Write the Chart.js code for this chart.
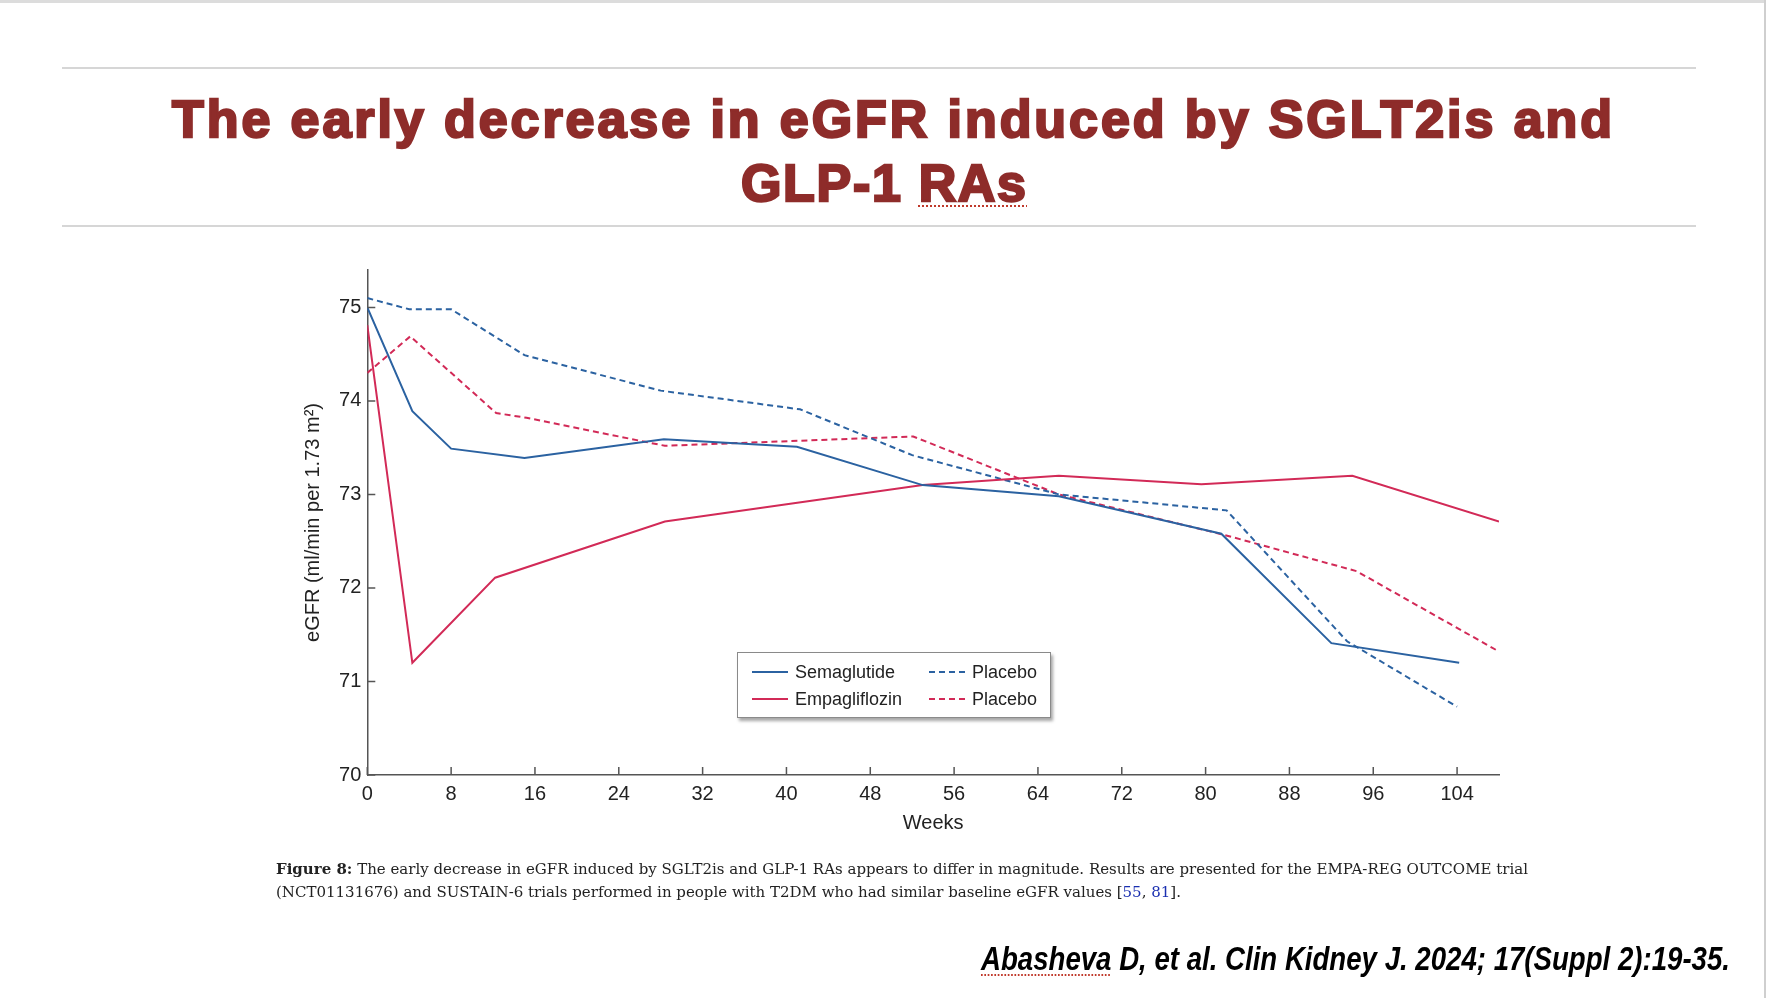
<!DOCTYPE html>
<html>
<head>
<meta charset="utf-8">
<script src="https://cdn.jsdelivr.net/npm/chart.js@4.4.1/dist/chart.umd.min.js"></script>
<style>
  html, body { margin: 0; padding: 0; background: #fff; }
  #page { position: relative; width: 1766px; height: 998px; overflow: hidden; background: #fff; }
  #topbar { position: absolute; left: 0; top: 0; width: 1766px; height: 3px; background: #dcdcdc; }
  #rightbar { position: absolute; right: 0; top: 0; width: 2px; height: 998px; background: #cfcfcf; }
  .rule { position: absolute; left: 62px; width: 1634px; height: 0; border-top: 2px solid #d6d6d6; }
  .title { position: absolute; font-family: "Liberation Sans", Arial, sans-serif; font-weight: bold;
           color: #8e2c2a; -webkit-text-stroke: 2.4px #8e2c2a; white-space: nowrap; line-height: 1; font-size: 52px; }
  .dotted { text-decoration: underline dotted #c0392b; text-decoration-thickness: 2px; text-underline-offset: 4px; }
  .title .dotted { -webkit-text-stroke: 2.4px #8e2c2a; }
  .caption { position: absolute; left: 276px; font-family: "DejaVu Serif", "Liberation Serif", serif;
             color: #222; white-space: nowrap; line-height: 1; font-size: 15px; }
  .caption b { font-weight: bold; }
  .caption .ref { color: #1a2fb0; }
  #cite { position: absolute; font-family: "Liberation Sans", Arial, sans-serif; font-weight: bold; font-style: italic;
          color: #000; white-space: nowrap; line-height: 1; font-size: 33px; transform-origin: right top; }
  #chart { position: absolute; left: 0; top: 0; }
  #legend { position: absolute; left: 737px; top: 652px; width: 312px; height: 64px; background: #fff;
            border: 1px solid #8a8a8a; box-shadow: 2px 3px 3px rgba(0,0,0,0.35); }
  .item { position: absolute; height: 22px; display: flex; align-items: center;
          font-family: "Liberation Sans", Arial, sans-serif; font-size: 18px; color: #222; white-space: nowrap; }
  .item svg { margin-right: 7px; }
</style>
</head>
<body>
<div id="page">
  <div id="topbar"></div>
  <div id="rightbar"></div>
  <div class="rule" style="top:67px"></div>
  <div class="rule" style="top:225px"></div>
  <div class="title" id="t1" style="left:172px; top:93px">The early decrease in eGFR induced by SGLT2is and</div>
  <div class="title" id="t2" style="left:741px; top:157px">GLP-1 <span class="dotted">RAs</span></div>

  <canvas id="chart" width="1766" height="998"></canvas>
  <div id="legend"></div>

  <div class="caption" id="c1" style="top:862px"><b>Figure 8:</b> The early decrease in eGFR induced by SGLT2is and GLP-1 RAs appears to differ in magnitude. Results are presented for the EMPA-REG OUTCOME trial</div>
  <div class="caption" id="c2" style="top:885px">(NCT01131676) and SUSTAIN-6 trials performed in people with T2DM who had similar baseline eGFR values [<span class="ref">55</span>, <span class="ref">81</span>].</div>

  <div id="cite" style="top:942px"><span class="dotted">Abasheva</span> D, et al. Clin Kidney J. 2024; 17(Suppl 2):19-35.</div>
</div>

<script>
// eGFR (ml/min per 1.73 m2)
const weeksSema = [0, 4.3, 8, 15, 28.3, 41, 53, 66, 81.5, 92, 104.2];
const semaglutide = [75.0, 73.89, 73.49, 73.39, 73.59, 73.51, 73.10, 72.98, 72.58, 71.41, 71.20];

const weeksSemaPbo = [0, 4, 8, 15, 28, 41.3, 52, 66, 82, 93.5, 104];
const semaPlacebo = [75.10, 74.98, 74.98, 74.49, 74.11, 73.91, 73.42, 73.0, 72.83, 71.43, 70.73];

const weeksEmpa = [0, 4.3, 12.2, 28.4, 53, 66, 79.6, 94, 108];
const empagliflozin = [74.81, 71.20, 72.11, 72.71, 73.10, 73.20, 73.11, 73.20, 72.71];

const weeksEmpaPbo = [0, 4.1, 12.3, 15.2, 28.4, 52.1, 66, 81.7, 94.4, 108];
const empaPlacebo = [74.30, 74.69, 73.87, 73.82, 73.52, 73.62, 73.0, 72.57, 72.18, 71.32];

const weekTicks = [0, 8, 16, 24, 32, 40, 48, 56, 64, 72, 80, 88, 96, 104];
const egfrTicks = [70, 71, 72, 73, 74, 75];

const blue = '#2b62a1';
const red = '#d22a57';
const axisFont = { family: '"Liberation Sans", Arial, sans-serif', size: 20 };

function points(weeks, vals) {
  return weeks.map((w, i) => ({ x: w, y: vals[i] }));
}

// ticks point inward, like the original
const innerTicks = {
  id: 'innerTicks',
  afterDraw(chart) {
    const { ctx, chartArea: a, scales: { x, y } } = chart;
    ctx.save();
    ctx.strokeStyle = '#555';
    ctx.lineWidth = 1.5;
    ctx.beginPath();
    weekTicks.forEach(v => {
      const px = x.getPixelForValue(v);
      ctx.moveTo(px, a.bottom);
      ctx.lineTo(px, a.bottom - 8);
    });
    egfrTicks.forEach(v => {
      const py = y.getPixelForValue(v);
      ctx.moveTo(a.left, py);
      ctx.lineTo(a.left + 8, py);
    });
    ctx.stroke();
    ctx.restore();
  }
};

const chart = new Chart(document.getElementById('chart'), {
  type: 'line',
  data: {
    datasets: [
      { label: 'Semaglutide', data: points(weeksSema, semaglutide), borderColor: blue, borderDash: [] },
      { label: 'Empagliflozin', data: points(weeksEmpa, empagliflozin), borderColor: red, borderDash: [] },
      { label: 'Placebo', data: points(weeksSemaPbo, semaPlacebo), borderColor: blue, borderDash: [6, 4] },
      { label: 'Placebo', data: points(weeksEmpaPbo, empaPlacebo), borderColor: red, borderDash: [6, 4] }
    ]
  },
  options: {
    responsive: false,
    animation: false,
    devicePixelRatio: 1,
    layout: { padding: { left: 297.3, right: 267, top: 270, bottom: 163 } },
    elements: {
      line: { borderWidth: 2, tension: 0, fill: false },
      point: { radius: 0, hoverRadius: 0 }
    },
    plugins: { legend: { display: false }, tooltip: { enabled: false } },
    scales: {
      x: {
        type: 'linear',
        min: 0,
        max: 108,
        afterBuildTicks: ax => { ax.ticks = weekTicks.map(v => ({ value: v })); },
        afterFit: ax => { ax.height = 60; },
        grid: { display: false, drawTicks: false },
        border: { display: true, color: '#555', width: 1.5 },
        ticks: { font: axisFont, color: '#222', padding: 7, maxRotation: 0, autoSkip: false },
        title: { display: true, text: 'Weeks', font: axisFont, color: '#222', padding: { top: 0, bottom: 0 } }
      },
      y: {
        min: 70,
        max: 75.4,
        afterBuildTicks: ax => { ax.ticks = egfrTicks.map(v => ({ value: v })); },
        afterFit: ax => { ax.width = 70; },
        grid: { display: false, drawTicks: false },
        border: { display: true, color: '#555', width: 1.5 },
        ticks: { font: axisFont, color: '#222', padding: 6 },
        title: { display: true, text: 'eGFR (ml/min per 1.73 m²)', font: axisFont, color: '#222', padding: { top: 4, bottom: 0 } }
      }
    }
  },
  plugins: [innerTicks]
});

// legend box built from the datasets, two columns like the figure
const legend = document.getElementById('legend');
const slots = [
  { left: 14, top: 8 }, { left: 14, top: 35 },
  { left: 191, top: 8 }, { left: 191, top: 35 }
];
chart.data.datasets.forEach((ds, i) => {
  const item = document.createElement('div');
  item.className = 'item';
  item.style.left = slots[i].left + 'px';
  item.style.top = slots[i].top + 'px';
  const dash = ds.borderDash.length ? ` stroke-dasharray="${ds.borderDash.join(' ')}"` : '';
  item.innerHTML = `<svg width="36" height="4"><line x1="0" y1="2" x2="36" y2="2" stroke="${ds.borderColor}" stroke-width="2"${dash}/></svg><span>${ds.label}</span>`;
  legend.appendChild(item);
});

// fit text runs to the widths measured on the figure
function fitSpacing(el, target) {
  const w = el.getBoundingClientRect().width;
  const n = el.textContent.length - 1;
  el.style.letterSpacing = ((target - w) / n) + 'px';
}
function fitSize(el, target) {
  const w = el.getBoundingClientRect().width;
  const size = parseFloat(getComputedStyle(el).fontSize);
  return size * target / w;
}
fitSpacing(document.getElementById('t1'), 1440);
fitSpacing(document.getElementById('t2'), 285);

const c1 = document.getElementById('c1');
const c2 = document.getElementById('c2');
const cs = fitSize(c1, 1253);
[c1, c2].forEach(el => { el.style.fontSize = cs + 'px'; });

const cite = document.getElementById('cite');
const cw = cite.getBoundingClientRect().width;
cite.style.left = (1730 - cw) + 'px';
cite.style.transform = `scaleX(${749 / cw})`;
</script>
</body>
</html>
